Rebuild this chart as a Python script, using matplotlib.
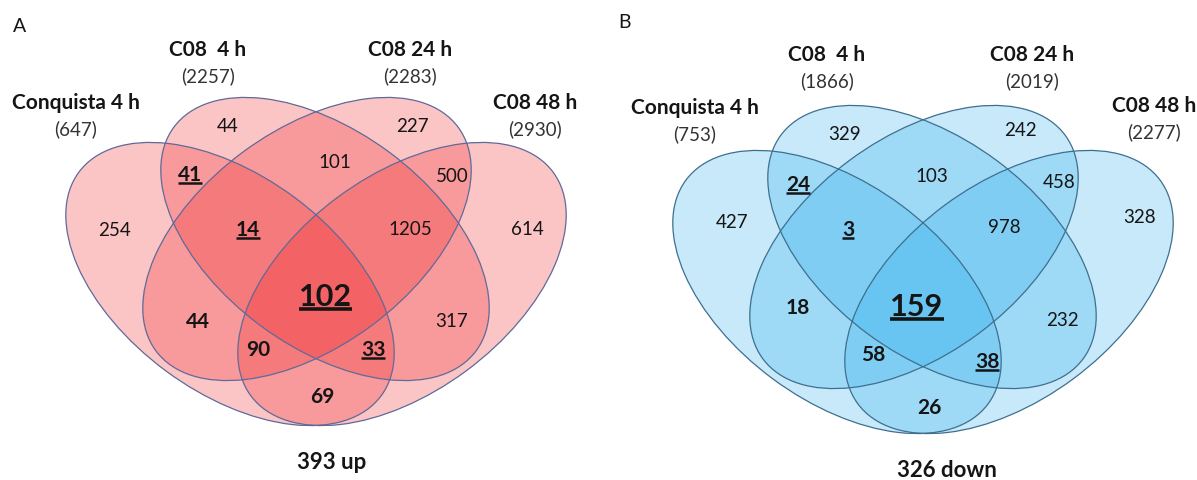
import matplotlib
matplotlib.use('Agg')
import matplotlib.pyplot as plt
from matplotlib.patches import Ellipse

plt.rcParams['font.family'] = ['Lato', 'DejaVu Sans']

# set names and totals
set_names = ['Conquista 4 h', 'C08  4 h', 'C08 24 h', 'C08 48 h']
up_totals = [647, 2257, 2283, 2930]
down_totals = [753, 1866, 2019, 2277]

# regions: sets each one belongs to (0=Conquista, 1=C08 4h, 2=C08 24h, 3=C08 48h)
region_sets = [(0,), (1,), (2,), (3,), (0, 1), (1, 2), (2, 3), (0, 3),
               (0, 1, 2), (1, 2, 3), (0, 2), (1, 3), (0, 1, 2, 3), (0, 2, 3), (0, 1, 3)]
up_counts = [254, 44, 227, 614, 41, 101, 500, 69, 14, 1205, 44, 317, 102, 90, 33]
down_counts = [427, 329, 242, 328, 24, 103, 458, 26, 3, 978, 18, 232, 159, 58, 38]
up_common = 393
down_common = 326

# ---- layout (pixel space) ----
ell_shape = [(230, 285, 36.5), (325, 240, 36.5), (307, 240, -36.5), (402, 285, -36.5)]
ell_a, ell_b = 188, 108

pos_up = [(114, 231), (228, 127), (412, 126), (527, 230), (190, 175), (335, 163),
          (452, 177), (322, 397), (248, 230), (410, 230), (198, 322), (452, 322),
          (325, 297), (258, 350), (373, 350)]
pos_down = [(732, 223), (845, 135), (1020, 131), (1140, 218), (798, 185), (932, 177),
            (1059, 183), (929, 408), (848, 230), (1004, 228), (798, 308), (1062, 321),
            (917, 307), (873, 355), (987, 362)]
name_pos_up = [(76, 103), (208, 50), (410, 50), (535, 103)]
name_pos_down = [(695, 108), (827, 55), (1032, 55), (1154, 106)]

panels = [
    dict(letter='A', letter_xy=(20, 27), off=(0, 0), counts=up_counts, pos=pos_up,
         names=name_pos_up, totals=up_totals, foot='%d up' % up_common, foot_xy=(332, 463),
         fill=(0.94, 0.12, 0.14), edge='#5f6a99'),
    dict(letter='B', letter_xy=(625, 23), off=(607, 8), counts=down_counts, pos=pos_down,
         names=name_pos_down, totals=down_totals, foot='%d down' % down_common, foot_xy=(947, 471),
         fill=(0.16, 0.68, 0.92), edge='#3f6f8f'),
]

fig = plt.figure(figsize=(11.97, 4.81), dpi=100)
ax = fig.add_axes([0, 0, 1, 1])
ax.set_xlim(0, 1197)
ax.set_ylim(481, 0)
ax.axis('off')

txt_col = '#151515'
underlined = []

for p in panels:
    ox, oy = p['off']
    for cx, cy, ang in ell_shape:
        ax.add_patch(Ellipse((cx + ox, cy + oy), 2 * ell_a, 2 * ell_b, angle=ang,
                             facecolor=p['fill'], alpha=0.26, edgecolor='none'))
    for cx, cy, ang in ell_shape:
        ax.add_patch(Ellipse((cx + ox, cy + oy), 2 * ell_a, 2 * ell_b, angle=ang,
                             facecolor='none', edgecolor=p['edge'], lw=0.9))

    ax.text(*p['letter_xy'], p['letter'], fontsize=14, color=txt_col, ha='center', va='center')

    for name, tot, (x, y) in zip(set_names, p['totals'], p['names']):
        ax.text(x, y, name, fontsize=15, fontweight='bold', color=txt_col, ha='center', va='center')
        ax.text(x, y + 26, '(%d)' % tot, fontsize=13.5, color='#333333', ha='center', va='center')

    for sets, n, (x, y) in zip(region_sets, p['counts'], p['pos']):
        if len(sets) == 4:
            t = ax.text(x, y, str(n), fontsize=22, fontweight='bold', color=txt_col,
                        ha='center', va='center')
        elif 0 in sets and len(sets) > 1:
            t = ax.text(x, y, str(n), fontsize=15, fontweight='bold', color=txt_col,
                        ha='center', va='center')
        else:
            t = ax.text(x, y, str(n), fontsize=13.5, color=txt_col, ha='center', va='center')
        if 0 in sets and 1 in sets:
            underlined.append((t, 2.6 if len(sets) == 4 else 1.8))

    ax.text(*p['foot_xy'], p['foot'], fontsize=16, fontweight='bold', color=txt_col,
            ha='center', va='center')

# underline the shared Conquista / C08 4 h numbers
fig.canvas.draw()
r = fig.canvas.get_renderer()
inv = ax.transData.inverted()
for t, lw in underlined:
    bb = t.get_window_extent(renderer=r)
    (x0, y0), (x1, y1) = inv.transform([(bb.x0, bb.y0), (bb.x1, bb.y1)])
    ax.plot([x0, x1], [y0 - 1, y0 - 1], color=txt_col, lw=lw, solid_capstyle='butt')

fig.savefig('out.png', dpi=100)
